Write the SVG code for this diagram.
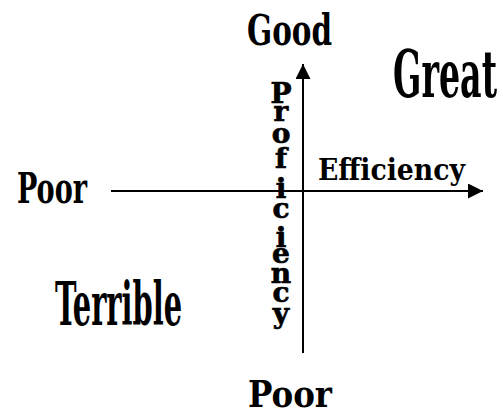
<svg xmlns="http://www.w3.org/2000/svg" width="503" height="415" viewBox="0 0 503 415">
<style>
.cond{font-family:"DejaVu Serif","Liberation Serif",serif;font-weight:bold;font-stretch:condensed;fill:#000}
.bold{font-family:"DejaVu Serif","Liberation Serif",serif;font-weight:bold;fill:#000}
.axis{stroke:#000;stroke-width:2;fill:none}
</style>
<defs>
<marker id="arrow" markerUnits="userSpaceOnUse" markerWidth="16" markerHeight="16" refX="15" refY="7.5" orient="auto" viewBox="0 0 16 16">
<path d="M0,0 L15,7.5 L0,15 z" fill="#000"/>
</marker>
</defs>
<rect width="503" height="415" fill="#fff"/>
<g id="connectors">
<line class="axis" x1="111" y1="191" x2="483" y2="191" marker-end="url(#arrow)"/>
<line class="axis" x1="303" y1="353" x2="303" y2="64" marker-end="url(#arrow)"/>
</g>
<g id="label-good"><text class="cond" x="247" y="45" font-size="43" textLength="85" lengthAdjust="spacingAndGlyphs">Good</text></g>
<g id="label-great"><text class="cond" x="393" y="97" font-size="66" textLength="104" lengthAdjust="spacingAndGlyphs">Great</text></g>
<g id="label-poor-left"><text class="cond" x="17" y="203" font-size="43" textLength="70" lengthAdjust="spacingAndGlyphs">Poor</text></g>
<g id="label-terrible"><text class="cond" x="55" y="325" font-size="59" textLength="127" lengthAdjust="spacingAndGlyphs">Terrible</text></g>
<g id="label-poor-bottom"><text class="cond" x="248" y="407" font-size="38" textLength="84" lengthAdjust="spacingAndGlyphs">Poor</text></g>
<g id="label-efficiency"><text class="bold" x="318" y="180" font-size="29" textLength="147" lengthAdjust="spacingAndGlyphs">Efficiency</text></g>
<g id="label-proficiency"><text class="bold" font-size="28" stroke="#000" stroke-width="0.7" text-anchor="middle" x="281 281 281 281 281 281 281 281 281 281 281" y="103 121 143 168 198 218 247 263 283 302 323">Proficiency</text></g>
</svg>
